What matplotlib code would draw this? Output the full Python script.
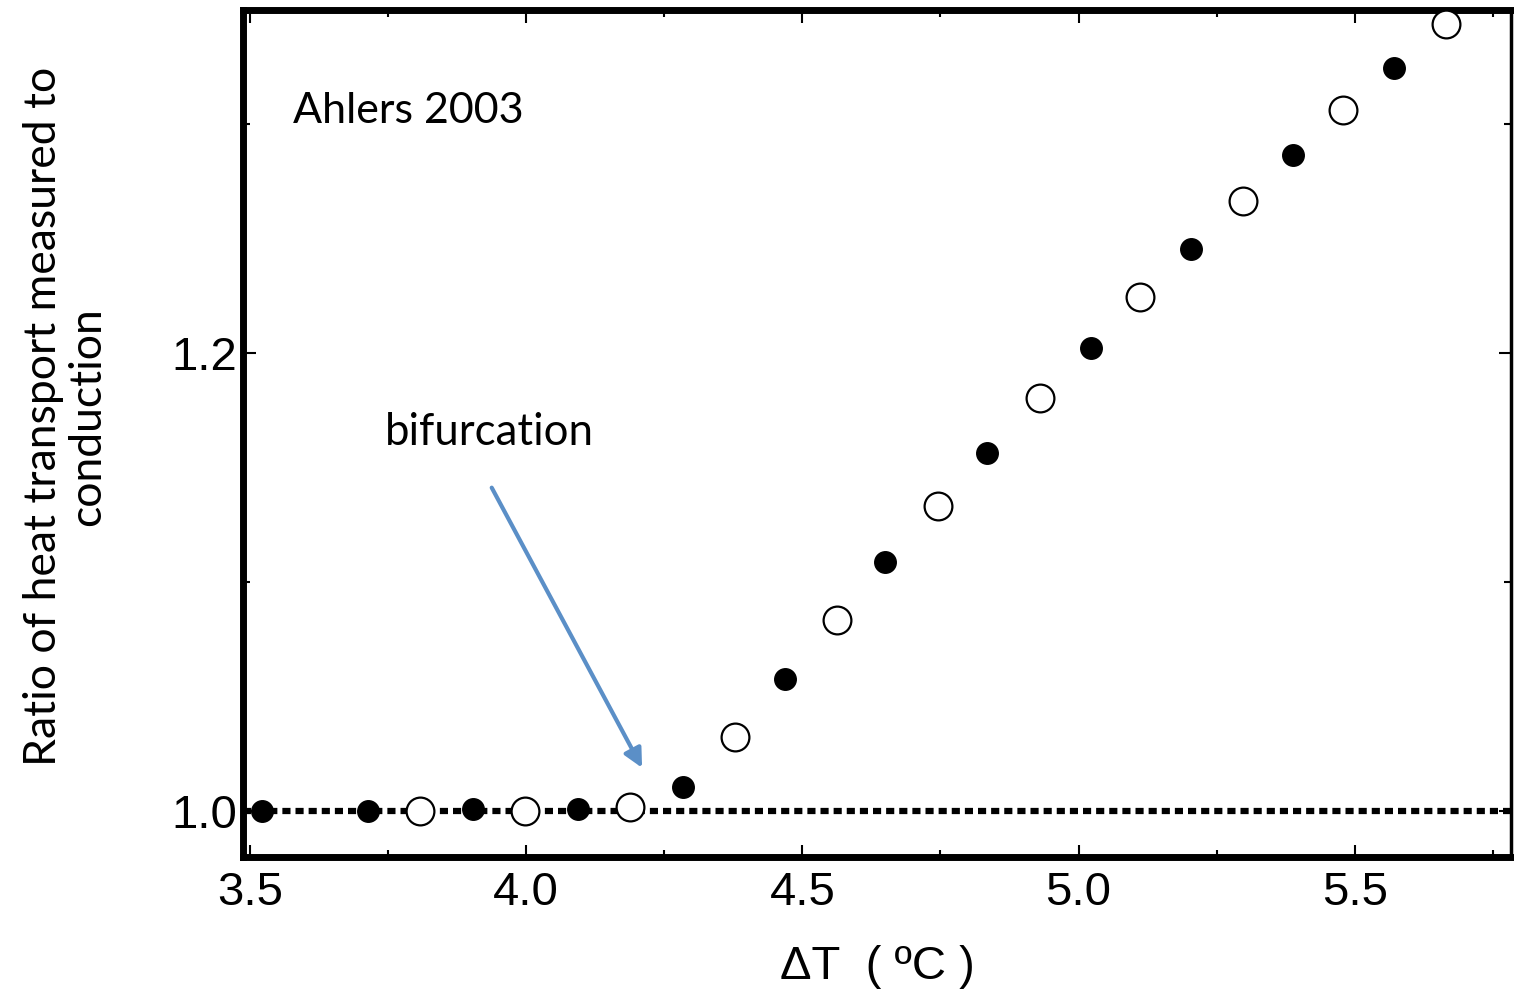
import matplotlib
matplotlib.use('Agg')
import matplotlib.pyplot as plt
from matplotlib.ticker import MultipleLocator

# filled and open data points
filled_x = [3.522, 3.714, 3.904, 4.094, 4.284, 4.469, 4.650, 4.835, 5.022, 5.203, 5.388, 5.571]
filled_y = [1.000, 1.000, 1.001, 1.001, 1.0105, 1.0576, 1.1087, 1.1563, 1.2022, 1.2454, 1.2865, 1.3245]
open_x = [3.808, 3.998, 4.188, 4.377, 4.563, 4.745, 4.931, 5.112, 5.297, 5.478, 5.665]
open_y = [1.000, 1.000, 1.0017, 1.0323, 1.0834, 1.1332, 1.1803, 1.2245, 1.2664, 1.3061, 1.3437]

xticks = [3.5, 4.0, 4.5, 5.0, 5.5]
yticks = [1.0, 1.2]

fig = plt.figure(figsize=(15.14, 9.98), dpi=100)
ax = fig.add_axes([0.1605, 0.1413, 0.8375, 0.8487])

ax.axhline(1.0, color='black', lw=4.5, ls=(0, (1.3, 0.8)), dash_capstyle='butt', zorder=1)
ax.plot(filled_x, filled_y, 'o', ms=15.5, color='black', zorder=3)
ax.plot(open_x, open_y, 'o', ms=20, mfc='white', mec='black', mew=1.6, zorder=3)

ax.set_xlim(3.487, 5.783)
ax.set_ylim(0.98, 1.35)
ax.set_xticks(xticks)
ax.set_yticks(yticks)
ax.set_xticklabels(['3.5', '4.0', '4.5', '5.0', '5.5'])
ax.set_yticklabels(['1.0', '1.2'])
ax.xaxis.set_minor_locator(MultipleLocator(0.25))
ax.yaxis.set_minor_locator(MultipleLocator(0.1))
ax.tick_params(which='both', direction='in', top=True, right=True, width=1.5,
               labelsize=34, labelfontfamily='Liberation Sans')
ax.tick_params(axis='x', pad=10)
ax.tick_params(axis='y', pad=4)
ax.tick_params(which='major', length=9)
ax.tick_params(which='minor', length=5)

for side in ['left', 'bottom', 'top']:
    ax.spines[side].set_linewidth(5)
ax.spines['right'].set_linewidth(2.5)

ax.set_xlabel('ΔT  ( ºC )', fontsize=34, family='Liberation Sans', labelpad=22)
ax.set_ylabel('Ratio of heat transport measured to\nconduction', fontsize=32,
              family='Lato', linespacing=1.1)
ax.yaxis.set_label_coords(-0.106, 0.52)

ax.text(3.578, 1.306, 'Ahlers 2003', fontsize=31, family='Lato', va='center', ha='left')
ax.text(3.7446, 1.1655, 'bifurcation', fontsize=31.5, family='Lato', va='center', ha='left')
ax.annotate('', xy=(4.212, 1.0179), xytext=(3.935, 1.1424),
            arrowprops=dict(arrowstyle='-|>', color='#5B8FC7', lw=3, mutation_scale=28))

fig.savefig('out.png', dpi=100)
